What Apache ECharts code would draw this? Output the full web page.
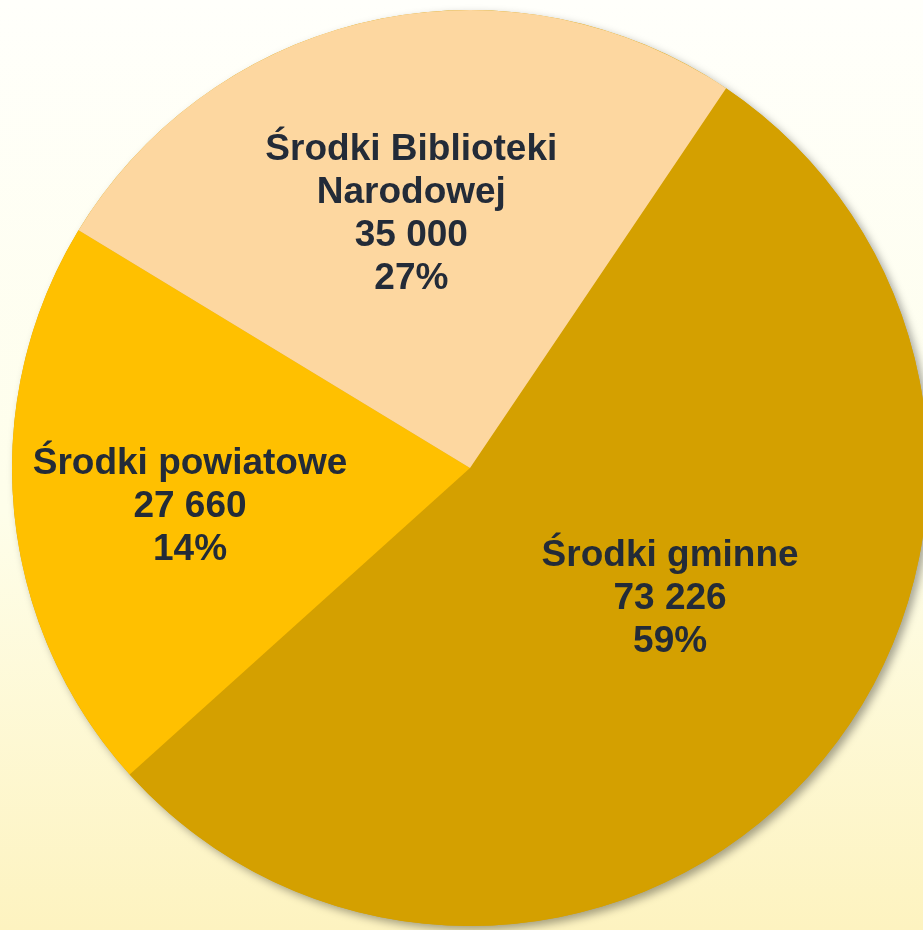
<!DOCTYPE html>
<html>
<head>
<meta charset="utf-8">
<script src="https://cdn.jsdelivr.net/npm/echarts@6/dist/echarts.min.js"></script>
<style>
    html, body { margin: 0; padding: 0; }
    #chart { width: 923px; height: 930px; }
</style>
</head>
<body>
<div id="chart"></div>
<script>
// dane z wykresu
var categories = ['Środki gminne', 'Środki powiatowe', 'Środki Biblioteki\nNarodowej'];
var values = [73226, 27660, 35000];
var percentLabels = ['59%', '14%', '27%'];
var colors = ['#D4A000', '#FFC000', '#FDD7A0'];
var labelOffsets = [[25, -21], [-49, 17], [-9, -27]];

function fmt(n) {
    return String(n).replace(/\B(?=(\d{3})+(?!\d))/g, ' ');
}

var total = values.reduce(function (a, b) { return a + b; }, 0);

var myChart = echarts.init(document.getElementById('chart'));

var data = [];
for (var i = 0; i < values.length; i++) {
    data.push({
        name: categories[i],
        value: values[i],
        itemStyle: { color: colors[i] },
        label: { offset: labelOffsets[i] }
    });
}

var option = {
    backgroundColor: {
        type: 'linear', x: 0, y: 0, x2: 0, y2: 1,
        colorStops: [
            { offset: 0, color: '#FFFFFB' },
            { offset: 0.55, color: '#FEFEEA' },
            { offset: 1, color: '#FDF3C0' }
        ]
    },
    animation: false,
    series: [
        {
            // cień pod całym kołem
            type: 'pie',
            silent: true,
            center: [470, 468],
            radius: 458,
            z: 1,
            label: { show: false },
            labelLine: { show: false },
            data: [{
                value: total,
                itemStyle: {
                    color: '#D4A000',
                    shadowBlur: 8,
                    shadowOffsetX: 4,
                    shadowOffsetY: 4,
                    shadowColor: 'rgba(0,0,0,0.35)'
                }
            }]
        },
        {
            type: 'pie',
            center: [470, 468],
            radius: 458,
            startAngle: 56,
            clockwise: true,
            z: 2,
            itemStyle: { borderWidth: 0 },
            label: {
                show: true,
                position: 'inside',
                fontFamily: 'Liberation Sans, Arial, sans-serif',
                fontWeight: 'bold',
                fontSize: 37,
                lineHeight: 43,
                color: '#232B38',
                align: 'center',
                formatter: function (p) {
                    return p.name + '\n' + fmt(p.value) + '\n' + percentLabels[p.dataIndex];
                }
            },
            labelLine: { show: false },
            emphasis: { disabled: true },
            data: data
        }
    ]
};

myChart.setOption(option);
</script>
</body>
</html>
